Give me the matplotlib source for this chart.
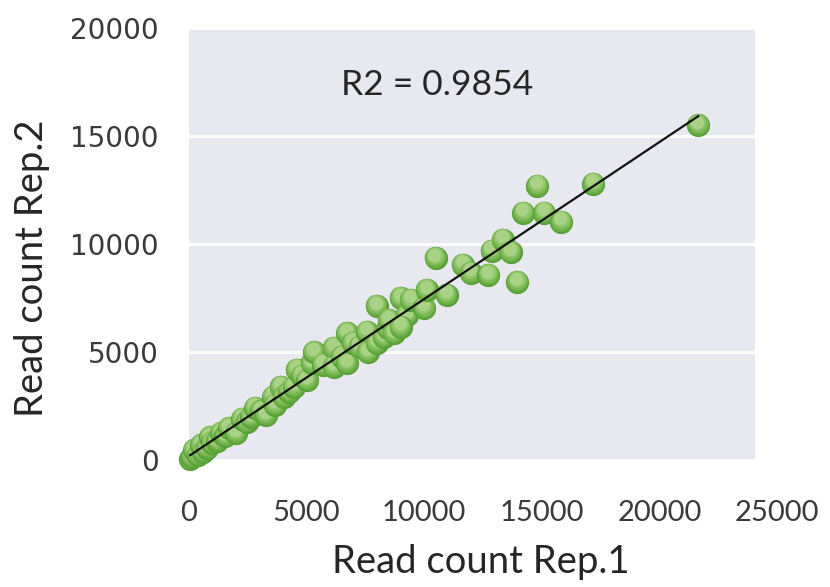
"""
Replicate correlation: read counts of Rep.1 vs Rep.2 with linear trendline.
"""

import matplotlib.pyplot as plt
import matplotlib.transforms as mtransforms
import numpy as np

# ── Palette ───────────────────────────────────────────────────────────────
C_BG    = '#e8e8f1'
C_TEXT  = '#262626'
C_TICK  = '#3a3a3a'
C_LINE  = '#111111'
# sphere shading: dark bottom -> light highlight on top
SHADES  = ['#58a035', '#69ad45', '#7db957', '#92c56c', '#a8d384']

# ── Data ──────────────────────────────────────────────────────────────────
rep1 = [50, 130, 210, 380, 510, 590, 760, 890, 980, 1200, 1360, 1550, 1700,
        2000, 2250, 2450, 2630, 2800, 3050, 3270, 3570, 3650, 3900, 4030,
        4250, 4460, 4580, 4800, 5010, 5220, 5310, 5700, 6150, 6150, 6490,
        6710, 6710, 6960, 7250, 7560, 7600, 7980, 7980, 8280, 8450, 8490,
        8700, 9000, 9250, 9420, 9000, 10000, 10100, 10480, 10950, 11630,
        11970, 12730, 12860, 13330, 13670, 13960, 14220, 14810, 15110,
        15830, 17190, 21650]
rep2 = [50, 140, 460, 250, 690, 370, 560, 1060, 790, 900, 1250, 1100, 1480,
        1250, 1900, 1750, 1990, 2410, 2250, 2080, 2920, 2550, 3380, 2920,
        3150, 3380, 4170, 3900, 3700, 4490, 5000, 4400, 5190, 4310, 4770,
        5880, 4490, 5420, 5250, 5930, 5000, 7130, 5420, 5690, 6110, 6480,
        5880, 7500, 6710, 7410, 6160, 7040, 7870, 9350, 7640, 9030,
        8660, 8560, 9680, 10190, 9630, 8240, 11440, 12690, 11440,
        11020, 12780, 15500]

r2_text = 'R2 = 0.9854'
x_ticks = [0, 5000, 10000, 15000, 20000, 25000]
y_ticks = [0, 5000, 10000, 15000, 20000]

# ── Figure ────────────────────────────────────────────────────────────────
fig = plt.figure(figsize=(8.3, 5.87), dpi=100)
ax = fig.add_axes([0.2277, 0.2164, 0.6819, 0.7359])
ax.set_facecolor(C_BG)
for s in ax.spines.values():
    s.set_visible(False)

# spheres: stacked discs shifted upward, drawn point by point
base = 280
layers = [(1.00, 0.0), (0.85, 0.7), (0.68, 1.4), (0.50, 2.0), (0.32, 2.5)]
for i, (x, y) in enumerate(zip(rep1, rep2)):
    for k, ((scale, dy), col) in enumerate(zip(layers, SHADES)):
        tr = mtransforms.offset_copy(ax.transData, fig=fig, x=-dy * 0.3,
                                     y=dy, units='points')
        ax.scatter([x], [y], s=base * scale, color=col, lw=0,
                   transform=tr, zorder=3 + i * 0.01 + k * 0.001,
                   clip_on=False)

# linear trendline over the data range
slope, icpt = np.polyfit(rep1, rep2, 1)
xs = np.array([min(rep1), max(rep1)])
ax.plot(xs, slope * xs + icpt, color=C_LINE, lw=1.6, zorder=5)

ax.set_xlim(0, 24060)
ax.set_ylim(0, 20000)
ax.set_xticks(x_ticks[:-1])
ax.set_yticks(y_ticks)
ax.grid(axis='y', color='white', lw=2)
ax.set_axisbelow(True)
ax.tick_params(axis='both', length=0)
ax.tick_params(axis='x', pad=29, labelsize=21, labelcolor=C_TICK)
ax.tick_params(axis='y', pad=22, labelsize=20, labelcolor=C_TICK)
for lab in ax.get_xticklabels():
    lab.set_family('Lato')
for lab in ax.get_yticklabels():
    lab.set_family('DejaVu Sans')

# last x tick sits beyond the plot area
ax.annotate(str(x_ticks[-1]), xy=(x_ticks[-1], 0),
            xycoords=('data', 'axes fraction'), xytext=(0, -29),
            textcoords='offset points', ha='center', va='top',
            fontsize=21, family='Lato', color=C_TICK, annotation_clip=False)

ax.text(0.438, 0.868, r2_text, transform=ax.transAxes, ha='center',
        va='center', fontsize=25.5, family='Lato', color=C_TEXT)
ax.text(0.516, -0.236, 'Read count Rep.1', transform=ax.transAxes,
        ha='center', va='center', fontsize=27.5, family='Lato', color=C_TEXT)
ax.text(-0.277, 0.444, 'Read count Rep.2', transform=ax.transAxes,
        ha='center', va='center', rotation=90, fontsize=27.5, family='Lato',
        color=C_TEXT)

fig.savefig('out.png', dpi=100)
